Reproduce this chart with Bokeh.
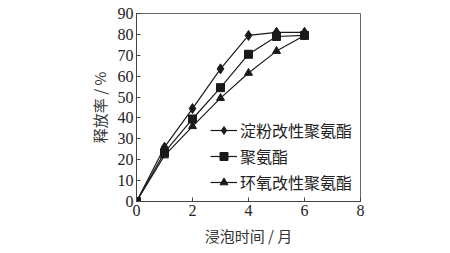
from bokeh.plotting import figure
from bokeh.embed import file_html
from bokeh.resources import INLINE
from bokeh.models import Legend, LegendItem, Range1d, FixedTicker

months = [0, 1, 2, 3, 4, 5, 6]
starch_pu = [0, 26, 44.5, 63.5, 79.5, 81, 81]
pu = [0, 23.5, 39.5, 54.5, 70.5, 79, 79.5]
epoxy_pu = [0, 22, 36, 49.5, 61.5, 72, 79.5]
names = ["淀粉改性聚氨酯", "聚氨酯", "环氧改性聚氨酯"]
x_ticks = [0, 2, 4, 6, 8]
y_ticks = [0, 10, 20, 30, 40, 50, 60, 70, 80, 90]

p = figure(width=450, height=253, output_backend="svg", toolbar_location=None,
           x_range=Range1d(0, 8), y_range=Range1d(0, 90),
           min_border_left=136, min_border_right=90, min_border_top=13, min_border_bottom=52)
p.background_fill_color = "white"
p.border_fill_color = "white"
p.outline_line_color = "#666666"
p.outline_line_width = 1
p.grid.visible = False

CJK = "Noto Sans CJK SC"
SERIF = "Liberation Serif"

p.xaxis.ticker = FixedTicker(ticks=x_ticks)
p.yaxis.ticker = FixedTicker(ticks=y_ticks)
for ax in (p.xaxis, p.yaxis):
    ax.major_tick_in = 4
    ax.major_tick_out = 0
    ax.minor_tick_line_color = None
    ax.axis_line_color = "#444444"
    ax.major_tick_line_color = "#444444"
    ax.major_label_text_font = SERIF
    ax.major_label_text_font_size = "16px"
    ax.major_label_text_color = "#222222"
    ax.axis_label_text_font = CJK
    ax.axis_label_text_font_size = "15px"
    ax.axis_label_text_font_style = "normal"
    ax.axis_label_text_color = "#333333"
p.xaxis.axis_label = "浸泡时间 / 月"
p.yaxis.axis_label = "释放率 / %"
p.xaxis.major_label_standoff = 3
p.yaxis.major_label_standoff = 3
p.xaxis.axis_label_standoff = 6
p.yaxis.axis_label_standoff = 5

c = "#1a1a1a"
r1l = p.line(months, starch_pu, line_color=c, line_width=1.2)
r1m = p.scatter(months, starch_pu, marker="diamond", size=10, fill_color=c, line_color=c)
r2l = p.line(months, pu, line_color=c, line_width=1.2)
r2m = p.scatter(months, pu, marker="square", size=8, fill_color=c, line_color=c)
r3l = p.line(months, epoxy_pu, line_color=c, line_width=1.2)
r3m = p.scatter(months, epoxy_pu, marker="triangle", size=8, fill_color=c, line_color=c)

legend = Legend(items=[
    LegendItem(label=names[0], renderers=[r1l, r1m]),
    LegendItem(label=names[1], renderers=[r2l, r2m]),
    LegendItem(label=names[2], renderers=[r3l, r3m]),
], location=(74, 7))
legend.background_fill_alpha = 0
legend.border_line_color = None
legend.label_text_font = CJK
legend.label_text_font_size = "16px"
legend.label_text_color = "#222222"
legend.glyph_width = 27
legend.label_standoff = 3
legend.spacing = 2
legend.padding = 0
legend.margin = 0
p.add_layout(legend)

open("out.html", "w").write(file_html(p, INLINE))
